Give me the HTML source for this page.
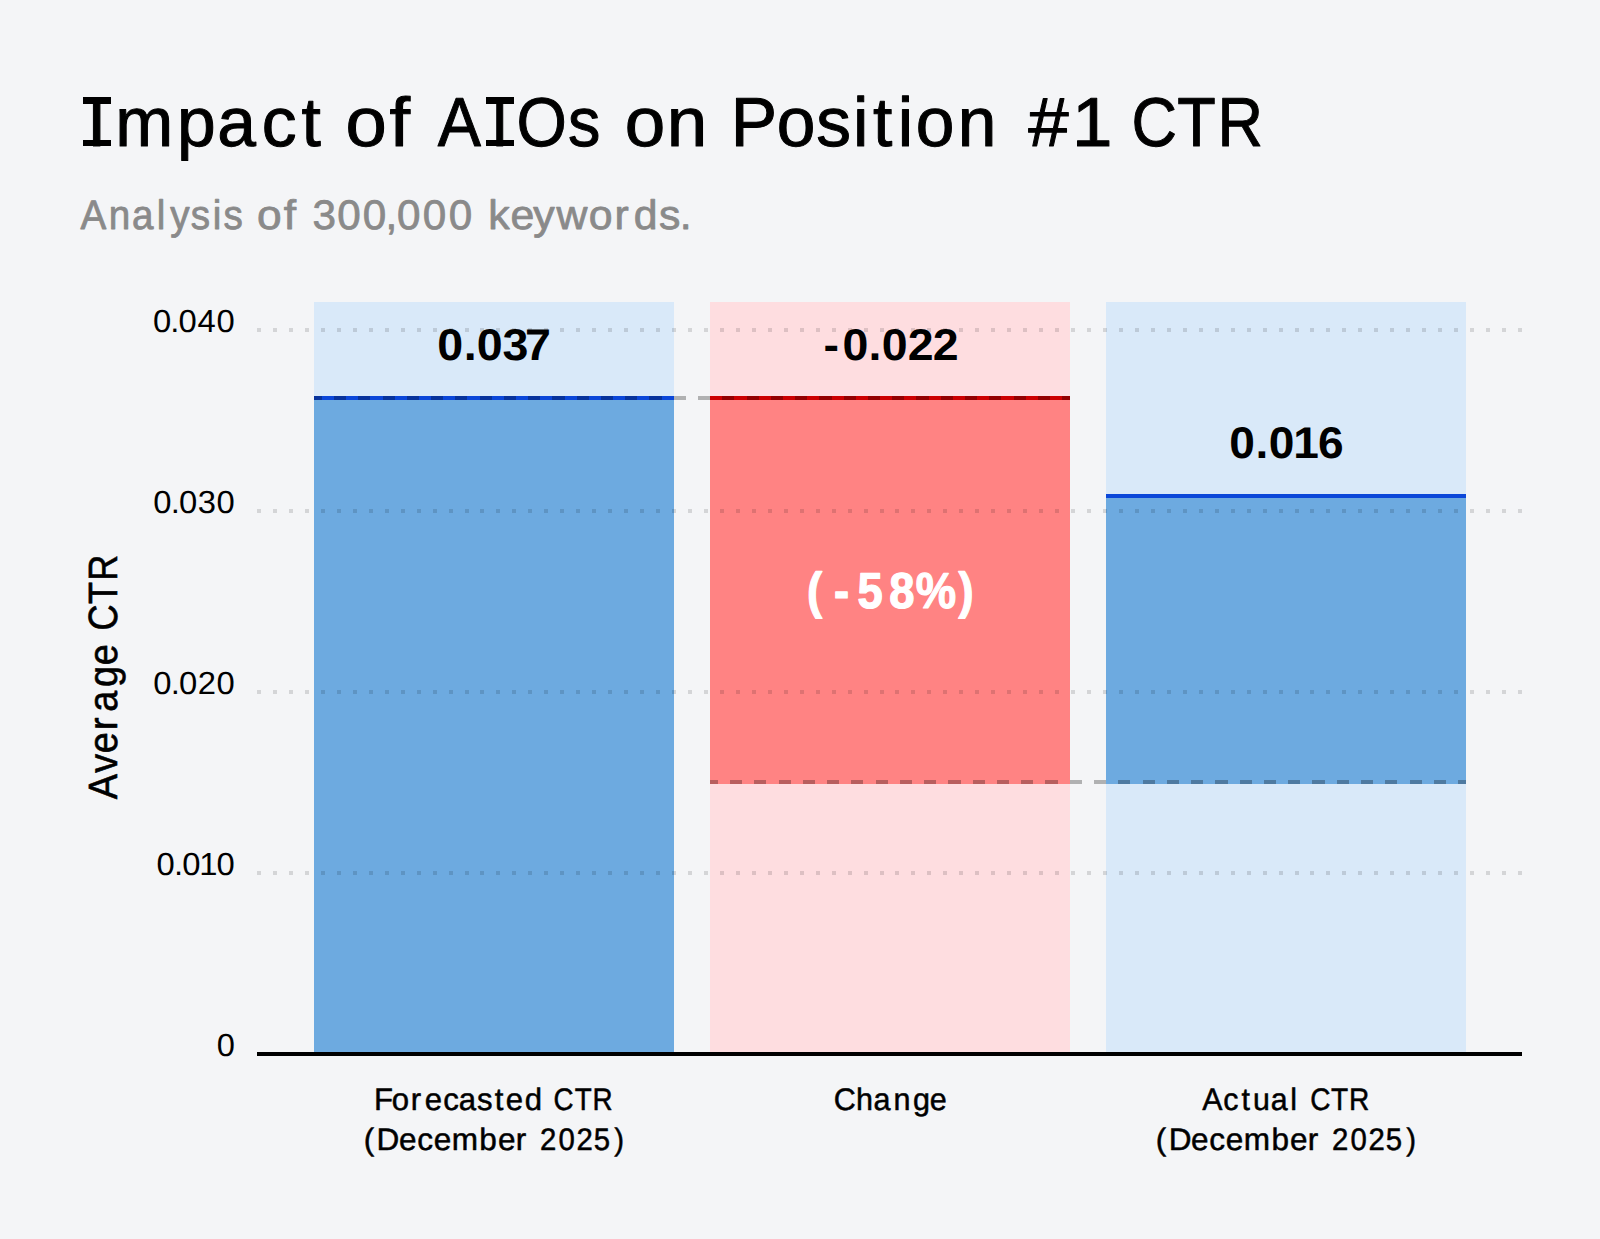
<!DOCTYPE html>
<html lang="en"><head><meta charset="utf-8"><title>Impact of AIOs on Position #1 CTR</title>
<style>
html,body{margin:0;padding:0;background:#f4f5f7;}
body{width:1600px;height:1239px;overflow:hidden;font-family:'Liberation Sans', Arial, sans-serif;}
svg{display:block;}
svg text{font-family:'Liberation Sans', Arial, sans-serif;}
</style></head><body>
<svg width="1600" height="1239" viewBox="0 0 1600 1239" shape-rendering="crispEdges" text-rendering="geometricPrecision">
<rect x="0" y="0" width="1600" height="1239" fill="#f4f5f7"/>

<g shape-rendering="auto" id="title">
<text transform="translate(0 145.50) scale(1.0045 1)" x="86.74 114.61 176.23 216.36 260.54 300.24" y="0" font-size="69.28" font-weight="normal" fill="#000" stroke="#000" stroke-width="1.0" stroke-linejoin="round">Impact</text>
<text transform="translate(0 145.50) scale(1.0701 1)" x="322.79 363.90" y="0" font-size="69.28" font-weight="normal" fill="#000" stroke="#000" stroke-width="1.0" stroke-linejoin="round">of</text>
<text transform="translate(0 145.50) scale(0.9342 1)" x="468.65 525.26 552.79 607.98" y="0" font-size="69.28" font-weight="normal" fill="#000" stroke="#000" stroke-width="1.0" stroke-linejoin="round">AIOs</text>
<text transform="translate(0 145.50) scale(1.0505 1)" x="594.75 634.73" y="0" font-size="69.28" font-weight="normal" fill="#000" stroke="#000" stroke-width="1.0" stroke-linejoin="round">on</text>
<text transform="translate(0 145.50) scale(1.0026 1)" x="728.97 774.71 814.19 850.85 870.64 895.33 913.35 955.24" y="0" font-size="69.28" font-weight="normal" fill="#000" stroke="#000" stroke-width="1.0" stroke-linejoin="round">Position</text>
<text transform="translate(0 145.50) scale(1.0497 1)" x="979.63 1021.16" y="0" font-size="69.28" font-weight="normal" fill="#000" stroke="#000" stroke-width="1.0" stroke-linejoin="round">#1</text>
<text transform="translate(0 145.50) scale(0.9095 1)" x="1244.03 1294.52 1338.77" y="0" font-size="69.28" font-weight="normal" fill="#000" stroke="#000" stroke-width="1.0" stroke-linejoin="round">CTR</text>
<rect x="83.0" y="97.1" width="27.9" height="6.5" fill="#000" shape-rendering="crispEdges"/><rect x="83.0" y="139.5" width="27.9" height="6.8" fill="#000" shape-rendering="crispEdges"/>
<rect x="485.6" y="97.1" width="27.9" height="6.5" fill="#000" shape-rendering="crispEdges"/><rect x="485.6" y="139.5" width="27.9" height="6.8" fill="#000" shape-rendering="crispEdges"/>
</g>
<g shape-rendering="auto" id="subtitle">
<text transform="translate(0 228.50) scale(0.9389 1)" x="85.80 115.86 140.49 167.07 181.43 203.10 226.60 238.09" y="0" font-size="41.16" font-weight="normal" fill="#8a8a8a" stroke="#8a8a8a" stroke-width="0.8" stroke-linejoin="round">Analysis</text>
<text transform="translate(0 228.50) scale(1.0762 1)" x="238.77 263.68" y="0" font-size="41.16" font-weight="normal" fill="#8a8a8a" stroke="#8a8a8a" stroke-width="0.8" stroke-linejoin="round">of</text>
<text transform="translate(0 228.50) scale(1.0254 1)" x="304.89 328.92 353.79 375.92 387.19 412.30 437.65" y="0" font-size="41.16" font-weight="normal" fill="#8a8a8a" stroke="#8a8a8a" stroke-width="0.8" stroke-linejoin="round">300,000</text>
<text transform="translate(0 228.50) scale(1.0393 1)" x="469.69 491.31 513.13 535.44 566.60 591.38 609.69 633.98 654.14" y="0" font-size="41.16" font-weight="normal" fill="#8a8a8a" stroke="#8a8a8a" stroke-width="0.8" stroke-linejoin="round">keywords.</text>
</g>
<rect x="314" y="302" width="360" height="750" fill="#d9e9f9"/>
<rect x="710" y="302" width="360" height="750" fill="#fedde0"/>
<rect x="1106" y="302" width="360" height="750" fill="#d9e9f9"/>
<rect x="314" y="400" width="360" height="652" fill="#6daae0"/>
<rect x="710" y="400" width="360" height="384" fill="#ff8383"/>
<rect x="1106" y="498" width="360" height="286" fill="#6daae0"/>
<rect x="314" y="396" width="360" height="4" fill="#0b47d9"/>
<rect x="710" y="396" width="360" height="4" fill="#cc0000"/>
<rect x="1106" y="494" width="360" height="4" fill="#0b47d9"/>
<line x1="257" y1="330" x2="1522" y2="330" stroke="#000" stroke-opacity="0.13" stroke-width="4" stroke-dasharray="4 11.962"/>
<line x1="257" y1="511" x2="1522" y2="511" stroke="#000" stroke-opacity="0.13" stroke-width="4" stroke-dasharray="4 11.962"/>
<line x1="257" y1="692" x2="1522" y2="692" stroke="#000" stroke-opacity="0.13" stroke-width="4" stroke-dasharray="4 11.962"/>
<line x1="257" y1="873" x2="1522" y2="873" stroke="#000" stroke-opacity="0.13" stroke-width="4" stroke-dasharray="4 11.962"/>
<line x1="314" y1="398" x2="1070" y2="398" stroke="#000" stroke-opacity="0.28" stroke-width="4" stroke-dasharray="12.135 12.135" stroke-dashoffset="4.3"/>
<line x1="710" y1="782" x2="1466" y2="782" stroke="#000" stroke-opacity="0.28" stroke-width="4" stroke-dasharray="12.135 12.135" stroke-dashoffset="4.3"/>
<rect x="257" y="1052" width="1265" height="4" fill="#000"/>
<g shape-rendering="auto" id="labels">
<text transform="translate(0 332.20) scale(1.0300 1)" x="148.50 165.38 173.21 191.80 210.20" y="0" font-size="31.83" font-weight="normal" fill="#000">0.040</text>
<text transform="translate(0 513.20) scale(1.0300 1)" x="148.84 165.67 173.89 192.12 210.29" y="0" font-size="31.83" font-weight="normal" fill="#000">0.030</text>
<text transform="translate(0 694.20) scale(1.0300 1)" x="148.84 165.67 173.89 192.04 210.29" y="0" font-size="31.83" font-weight="normal" fill="#000">0.020</text>
<text transform="translate(0 875.20) scale(1.0300 1)" x="152.04 169.02 177.04 193.34 210.20" y="0" font-size="31.83" font-weight="normal" fill="#000">0.010</text>
<text transform="translate(0 1056.20) scale(1.0252 1)" x="211.38" y="0" font-size="31.83" font-weight="normal" fill="#000">0</text>
<g transform="translate(117.3 799.3) rotate(-90)">
<text transform="translate(0 -0.30) scale(0.9253 1)" x="0.03 28.74 49.88 74.81 94.63 121.29 144.88" y="0" font-size="40.87" font-weight="normal" fill="#000" stroke="#000" stroke-width="0.6" stroke-linejoin="round">Average</text>
<text transform="translate(0 -0.30) scale(0.8829 1)" x="191.33 221.09 247.55" y="0" font-size="40.87" font-weight="normal" fill="#000" stroke="#000" stroke-width="0.6" stroke-linejoin="round">CTR</text>
</g>
<text transform="translate(0 360.20) scale(1.0470 1)" x="417.71 442.93 455.43 480.06 501.52" y="0" font-size="44.51" font-weight="bold" fill="#000">0.037</text>
<text transform="translate(0 360.20) scale(1.0446 1)" x="788.30 806.45 831.53 844.12 869.08 893.01" y="0" font-size="44.51" font-weight="bold" fill="#000">-0.022</text>
<text transform="translate(0 458.40) scale(1.0365 1)" x="1186.08 1211.38 1224.02 1247.64 1271.54" y="0" font-size="44.51" font-weight="bold" fill="#000">0.016</text>
<text transform="translate(0 607.70) scale(0.9000 1)" x="896.81 926.69 952.66 987.95 1017.56 1065.13" y="0" font-size="50.42" font-weight="bold" fill="#fff" stroke="#fff" stroke-width="1.2" stroke-linejoin="round">(-58%)</text>
<text transform="translate(0 1109.75) scale(0.9989 1)" x="374.54 392.29 411.17 425.33 443.64 459.16 477.57 495.35 506.41 525.32" y="0" font-size="31.16" font-weight="normal" fill="#000" stroke="#000" stroke-width="0.5" stroke-linejoin="round">Forecasted</text>
<text transform="translate(0 1109.75) scale(0.8929 1)" x="620.02 643.65 663.67" y="0" font-size="31.16" font-weight="normal" fill="#000" stroke="#000" stroke-width="0.5" stroke-linejoin="round">CTR</text>
<text transform="translate(0 1149.75) scale(1.0120 1)" x="359.38 372.15 394.29 412.37 428.62 446.33 473.69 492.12 509.61" y="0" font-size="31.16" font-weight="normal" fill="#000" stroke="#000" stroke-width="0.5" stroke-linejoin="round">(December</text>
<text transform="translate(0 1149.75) scale(0.9423 1)" x="573.14 592.78 611.88 630.18 651.98" y="0" font-size="31.16" font-weight="normal" fill="#000" stroke="#000" stroke-width="0.5" stroke-linejoin="round">2025)</text>
<text transform="translate(0 1109.75) scale(0.9801 1)" x="850.57 873.37 891.37 911.71 931.49 948.70" y="0" font-size="31.16" font-weight="normal" fill="#000" stroke="#000" stroke-width="0.5" stroke-linejoin="round">Change</text>
<text transform="translate(0 1109.75) scale(0.9722 1)" x="1236.71 1258.34 1276.91 1288.91 1306.98 1327.15" y="0" font-size="31.16" font-weight="normal" fill="#000" stroke="#000" stroke-width="0.5" stroke-linejoin="round">Actual</text>
<text transform="translate(0 1109.75) scale(0.9016 1)" x="1453.22 1476.36 1496.16" y="0" font-size="31.16" font-weight="normal" fill="#000" stroke="#000" stroke-width="0.5" stroke-linejoin="round">CTR</text>
<text transform="translate(0 1149.75) scale(1.0120 1)" x="1142.03 1154.79 1176.93 1195.01 1211.27 1228.97 1256.33 1274.76 1292.25" y="0" font-size="31.16" font-weight="normal" fill="#000" stroke="#000" stroke-width="0.5" stroke-linejoin="round">(December</text>
<text transform="translate(0 1149.75) scale(0.9423 1)" x="1413.60 1433.23 1452.33 1470.63 1492.43" y="0" font-size="31.16" font-weight="normal" fill="#000" stroke="#000" stroke-width="0.5" stroke-linejoin="round">2025)</text>
</g>
</svg></body></html>
